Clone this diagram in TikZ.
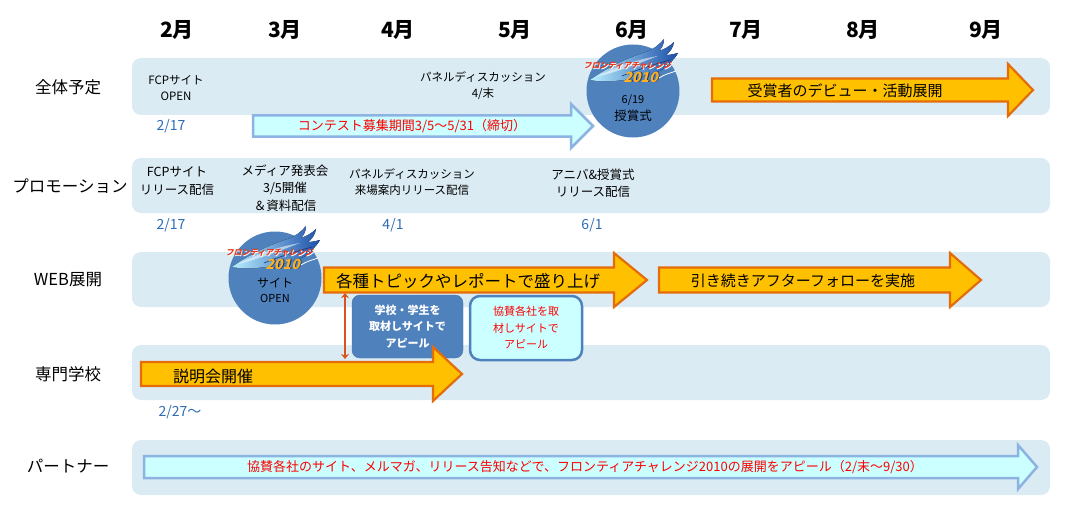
\documentclass[tikz,border=0pt]{standalone}
\usepackage{fontspec}
\setmainfont{Noto Sans CJK JP}
\usetikzlibrary{arrows.meta}
\definecolor{bandc}{HTML}{DBEBF3}
\definecolor{orfill}{HTML}{FFC000}
\definecolor{ordraw}{HTML}{E46C0A}
\definecolor{cyfill}{HTML}{CCFFFF}
\definecolor{cydraw}{HTML}{8DB3E2}
\definecolor{circc}{HTML}{4F81BD}
\definecolor{datec}{HTML}{2E6DB4}
\definecolor{redtxt}{HTML}{FF0000}
\definecolor{dblc}{HTML}{D9531E}
\definecolor{flamea}{HTML}{B8EEFF}
\definecolor{flameb}{HTML}{1C4FA8}
\definecolor{logot}{HTML}{E8381A}
\definecolor{logoy}{HTML}{FFB020}
\newcommand\barrow[7]{%
  \draw[#7] (#1,#4-#5) -- (#2,#4-#5) -- (#2,#4-#6) -- (#3,#4) -- (#2,#4+#6) -- (#2,#4+#5) -- (#1,#4+#5) -- cycle;}
\newcommand\fclogo[2]{%
  \begin{scope}[shift={(#1,#2)}]
    \fill[left color=flamea, right color=flameb]
      (-42,12) .. controls (-25,0) and (-5,-10) .. (14,-16)
      .. controls (22,-19) and (28,-24) .. (32,-29)
      .. controls (32,-24) and (30,-20) .. (27,-17)
      .. controls (33,-19) and (38,-22) .. (42,-26)
      .. controls (41,-20) and (38,-16) .. (34,-13)
      .. controls (38,-13) and (42,-14) .. (46,-15)
      .. controls (42,-8) and (36,-3) .. (30,2)
      .. controls (10,10) and (-20,16) .. (-42,12) -- cycle;
    \fill[white, opacity=0.55]
      (-36,9) .. controls (-18,0) and (2,-8) .. (26,-12)
      .. controls (5,-4) and (-15,4) .. (-36,9) -- cycle;
    \draw[flameb!70!black, line width=0.6pt] (-10,8) .. controls (5,2) and (20,-3) .. (38,-8);
    \node[font=\fontsize{8}{8}\selectfont\bfseries, text=white, xslant=0.25, inner sep=0] at (-3.4,-1.4) {フロンティアチャレンジ};
    \node[font=\fontsize{8}{8}\selectfont\bfseries, text=logot, xslant=0.25, inner sep=0] at (-4,-2) {フロンティアチャレンジ};
    \node[font=\fontsize{14}{14}\selectfont\bfseries, text=flameb!60!black, xslant=0.25, inner sep=0] at (10.9,9.9) {2010};
    \node[font=\fontsize{14}{14}\selectfont\bfseries, text=logoy, xslant=0.25, inner sep=0] at (10,9) {2010};
    \draw[white, line width=0.8pt] (27,10) .. controls (33,6) and (39,5) .. (44,3);
  \end{scope}}
\tikzset{
  bandst/.style={fill=bandc, rounded corners=9pt},
  orarrow/.style={fill=orfill, draw=ordraw, line width=2.2pt, line join=miter},
  cyarrow/.style={fill=cyfill, draw=cydraw, line width=2.5pt, line join=miter},
  month/.style={font=\fontsize{21}{22}\selectfont\bfseries, inner sep=0},
  rowlab/.style={font=\fontsize{16.5}{18}\selectfont, inner sep=0},
  txt/.style={font=\fontsize{11.5}{16}\selectfont, align=center, inner sep=0},
  txtb/.style={font=\fontsize{12.5}{17.5}\selectfont, align=center, inner sep=0},
  datest/.style={font=\fontsize{14}{15}\selectfont, text=datec, inner sep=0},
  circst/.style={circle, fill=circc, minimum size=93pt, inner sep=0},
}
\begin{document}
\begin{tikzpicture}[x=1pt,y=-1pt]
\useasboundingbox (0,0) rectangle (1067,516);
\fill[white] (0,0) rectangle (1067,516);
% months
\node[month] (m2) at (177,30) {2月};
\node[month] (m3) at (285,30) {3月};
\node[month] (m4) at (398,30) {4月};
\node[month] (m5) at (515,30) {5月};
\node[month] (m6) at (632,30) {6月};
\node[month] (m7) at (746,30) {7月};
\node[month] (m8) at (863,30) {8月};
\node[month] (m9) at (986,30) {9月};
% bands
\fill[bandst] (132,58) rectangle (1050,115);
\fill[bandst] (132,158) rectangle (1050,213);
\fill[bandst] (132,252) rectangle (1050,307);
\fill[bandst] (132,345) rectangle (1050,400);
\fill[bandst] (132,440) rectangle (1050,495);
% row labels
\node[rowlab] (r1) at (68,87) {全体予定};
\node[rowlab] (r2) at (70,186) {プロモーション};
\node[rowlab] (r3) at (68,280) {WEB展開};
\node[rowlab] (r4) at (68,374) {専門学校};
\node[rowlab] (r5) at (68,466) {パートナー};
% row 1
\node[txt] (a1) at (176,88) {FCPサイト\\OPEN};
\node[txt] (a2) at (483,86) {パネルディスカッション\\4/末};
\node[datest] (d1) at (171,126) {2/17};
\barrow{253}{571}{593}{126}{10.5}{22}{cyarrow}
\node[font=\fontsize{13}{14}\selectfont, text=redtxt, inner sep=0] (a3) at (412,126) {コンテスト募集期間3/5～5/31（締切）};
\node[circst] (c1) at (633,91) {};
\fclogo{632}{68}
\node[font=\fontsize{11}{12}\selectfont, inner sep=0] (c1a) at (633,100) {6/19};
\node[font=\fontsize{12.5}{13}\selectfont, inner sep=0] (c1b) at (633,116) {授賞式};
\barrow{712}{1008}{1033}{90}{11.5}{26}{orarrow}
\node[font=\fontsize{15}{16}\selectfont, inner sep=0] (a4) at (845,91) {受賞者のデビュー・活動展開};
% row 2
\node[txtb] (p1) at (177,181) {FCPサイト\\リリース配信};
\node[txtb] (p2) at (285,188) {メディア発表会\\3/5開催\\＆資料配信};
\node[txt] (p3) at (412,182) {パネルディスカッション\\来場案内リリース配信};
\node[txtb] (p4) at (593,183) {アニバ\&授賞式\\リリース配信};
\node[datest] (d2) at (171,225) {2/17};
\node[datest] (d3) at (393,225) {4/1};
\node[datest] (d4) at (592,225) {6/1};
% row 3
\node[circst] (c2) at (275,278) {};
\fclogo{274}{255}
\node[font=\fontsize{12}{13}\selectfont, inner sep=0] (c2a) at (275,283) {サイト};
\node[font=\fontsize{11}{12}\selectfont, inner sep=0] (c2b) at (275,298) {OPEN};
\barrow{324}{614}{647}{280}{12.5}{27}{orarrow}
\node[font=\fontsize{16.5}{17}\selectfont, inner sep=0] (w1) at (468,281) {各種トピックやレポートで盛り上げ};
\barrow{659}{950}{981}{280}{12.5}{27}{orarrow}
\node[font=\fontsize{15}{16}\selectfont, inner sep=0] (w2) at (803,281) {引き続きアフターフォローを実施};
\node[fill=circc, draw=circc!90!black, rounded corners=8pt, minimum width=111pt, minimum height=63pt, inner sep=0,
      text=white, align=center, font=\fontsize{11}{16.5}\selectfont\bfseries] (b1) at (407.5,326.5) {学校・学生を\\取材しサイトで\\アピール};
\node[fill=cyfill, draw=circc, line width=2.5pt, rounded corners=10pt, minimum width=112pt, minimum height=64pt, inner sep=0,
      text=redtxt, align=center, font=\fontsize{11}{16.5}\selectfont] (b2) at (526,328) {協賛各社を取\\材しサイトで\\アピール};
\coordinate (da) at (345,293);
\coordinate (db) at (345,359);
\draw[dblc, line width=2.6pt, {Stealth[length=5pt,width=8pt]}-{Stealth[length=5pt,width=8pt]}] (da) -- (db);
% row 4
\barrow{141}{433}{462}{374}{12}{27}{orarrow}
\node[font=\fontsize{16}{17}\selectfont, inner sep=0] (s1) at (213,376) {説明会開催};
\node[datest] (d5) at (180,412) {2/27～};
% row 5
\barrow{144}{1018}{1037}{467}{11}{22}{cyarrow}
\node[font=\fontsize{13}{14}\selectfont, text=redtxt, inner sep=0] (pt) at (585,467) {協賛各社のサイト、メルマガ、リリース告知などで、フロンティアチャレンジ2010の展開をアピール（2/末～9/30）};
\end{tikzpicture}
\end{document}
